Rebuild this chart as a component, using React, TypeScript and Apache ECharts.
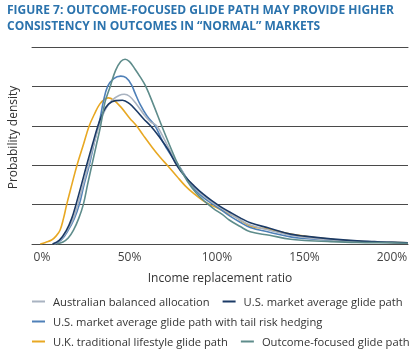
import React, { useEffect, useRef } from "react";
import * as echarts from "echarts";

const TITLE_LINES = [
  "FIGURE 7: OUTCOME-FOCUSED GLIDE PATH MAY PROVIDE HIGHER",
  "CONSISTENCY IN OUTCOMES IN \u201CNORMAL\u201D MARKETS",
];
const X_TICKS = [0, 50, 100, 150, 200];
const SERIES_NAMES = [
  "Australian balanced allocation",
  "U.S. market average glide path",
  "U.S. market average glide path with tail risk hedging",
  "U.K. traditional lifestyle glide path",
  "Outcome-focused glide path",
];

// [income replacement ratio %, probability density]
const australian: number[][] = [
  [7, 0], [10.5, 0.1], [14.5, 0.35], [18, 0.65], [20.4, 1.0], [23.5, 1.5], [26.5, 2.0], [30, 2.6], [33, 3.05],
  [36, 3.4], [40, 3.65], [44, 3.77], [47, 3.8], [50, 3.75], [54, 3.55], [58, 3.3], [62, 3.1], [65.5, 3.0],
  [70, 2.65], [74, 2.3], [78, 2.0], [83, 1.65], [88, 1.4], [93, 1.2], [98, 1.03], [103, 0.9], [107, 0.78],
  [113, 0.62], [119, 0.48], [130, 0.35], [142, 0.22], [150, 0.17], [165, 0.1], [180, 0.06], [200, 0.04], [209, 0.03],
];
const usMarket: number[][] = [
  [6, 0], [10, 0.1], [14, 0.35], [17, 0.65], [19.4, 1.0], [22.5, 1.5], [25.5, 2.0], [29, 2.55], [32, 3.0],
  [35, 3.35], [38, 3.55], [42, 3.64], [46, 3.65], [50, 3.56], [54, 3.38], [58, 3.18], [62, 3.0], [67, 2.72],
  [72, 2.4], [77, 2.0], [82, 1.7], [87, 1.47], [92, 1.27], [97, 1.1], [102, 0.95], [107, 0.82], [113, 0.67],
  [119, 0.54], [130, 0.4], [142, 0.25], [150, 0.2], [165, 0.13], [180, 0.08], [190, 0.06], [200, 0.04], [209, 0.03],
];
const usTailRisk: number[][] = [
  [7.5, 0], [11, 0.1], [15, 0.35], [18.5, 0.65], [21.3, 1.0], [24, 1.5], [27, 2.0], [30, 2.6], [33, 3.15],
  [35, 3.6], [37.5, 4.0], [41, 4.2], [45, 4.26], [48, 4.22], [51, 4.05], [53, 3.85], [56, 3.55], [60, 3.25],
  [64.6, 3.0], [69, 2.6], [73, 2.3], [78, 2.0], [83, 1.65], [88, 1.35], [93, 1.15], [98, 1.0], [103, 0.85],
  [107, 0.72], [113, 0.56], [119, 0.42], [130, 0.3], [142, 0.18], [150, 0.14], [165, 0.09], [180, 0.06], [200, 0.04], [209, 0.03],
];
const ukLifestyle: number[][] = [
  [-1, 0], [2, 0.04], [5.5, 0.1], [8, 0.2], [10.3, 0.35], [12.3, 0.65], [14.1, 1.0], [17, 1.5], [20, 2.0],
  [23.5, 2.5], [27, 3.0], [30, 3.3], [33, 3.55], [36, 3.68], [38, 3.71], [41, 3.65], [45, 3.48], [50, 3.2],
  [54, 3.0], [58, 2.75], [63, 2.45], [67.5, 2.2], [71.6, 2.0], [77, 1.72], [82, 1.47], [87, 1.27], [92, 1.1],
  [96, 1.0], [100, 0.92], [105, 0.8], [110, 0.7], [119, 0.46], [130, 0.37], [142, 0.25], [150, 0.2],
  [165, 0.12], [180, 0.07], [190, 0.05], [200, 0.04], [209, 0.03],
];
const outcomeFocused: number[][] = [
  [8.5, 0], [12, 0.05], [15, 0.15], [18, 0.35], [21, 0.65], [23.6, 1.0], [26, 1.5], [28.5, 2.0], [31, 2.5],
  [33.5, 3.0], [36, 3.6], [39, 4.0], [42, 4.4], [45, 4.63], [47.5, 4.69], [50, 4.63], [53, 4.45], [56, 4.25],
  [59.3, 4.0], [64, 3.5], [68.4, 3.0], [73, 2.5], [77.9, 2.0], [83, 1.6], [88, 1.3], [93, 1.08], [98, 0.9],
  [103, 0.75], [107, 0.61], [113, 0.45], [119, 0.31], [130, 0.22], [142, 0.12], [150, 0.09], [165, 0.06],
  [180, 0.04], [200, 0.03], [209, 0.02],
];

const SERIES_DATA = [australian, usMarket, usTailRisk, ukLifestyle, outcomeFocused];
const COLORS = ["#a9b3c1", "#1b3a66", "#4f80b8", "#e8a823", "#5e8c8b"];
const Z_ORDER = [3, 4, 2, 1, 5];

const FONT = "Open Sans";

export default function App() {
  const ref = useRef<HTMLDivElement>(null);
  useEffect(() => {
    if (!ref.current) return;
    const chart = echarts.init(ref.current, undefined, { renderer: "svg" });
    const legendText = { fontFamily: FONT, fontSize: 11.2, color: "#333", padding: [0, 0, 0, 3] };
    const legendBase = {
      icon: "rect",
      itemWidth: 13,
      itemHeight: 2,
      itemGap: 13,
      padding: 0,
      width: 380,
      textStyle: legendText,
      selectedMode: false,
    };
    const titleStyle = { fontFamily: FONT, fontSize: 12, fontWeight: "bold", color: "#2b73ad", lineHeight: 16 };
    chart.setOption({
      animation: false,
      title: [
        { text: TITLE_LINES[0], left: 7, top: 1, padding: 0, textStyle: titleStyle },
        { text: TITLE_LINES[1], left: 7, top: 17, padding: 0, textStyle: titleStyle },
      ],
      grid: { left: 32, right: 6, top: 47, bottom: 112 },
      legend: [
        { ...legendBase, left: 32, top: 296, data: [SERIES_NAMES[0], SERIES_NAMES[1]] },
        { ...legendBase, left: 32, top: 316, data: [SERIES_NAMES[2]] },
        { ...legendBase, left: 32, top: 336, data: [SERIES_NAMES[3], SERIES_NAMES[4]] },
      ],
      xAxis: [
        {
          type: "value",
          min: -5.71,
          max: 209.14,
          name: "Income replacement ratio",
          nameLocation: "middle",
          nameGap: 27,
          nameTextStyle: { fontFamily: FONT, fontSize: 12, color: "#333" },
          axisLine: { show: true, lineStyle: { color: "#4a4a4a", width: 1 } },
          axisTick: { show: false },
          splitLine: { show: false },
          axisLabel: {
            customValues: X_TICKS,
            formatter: (v: number) => `${v}%`,
            fontFamily: FONT,
            fontSize: 12,
            color: "#444",
            margin: 6,
          },
        },
        {
          type: "value",
          position: "top",
          min: -5.71,
          max: 209.14,
          axisLine: { show: true, lineStyle: { color: "#4a4a4a", width: 1 } },
          axisTick: { show: false },
          axisLabel: { show: false },
          splitLine: { show: false },
        },
      ],
      yAxis: {
        type: "value",
        min: 0,
        max: 5,
        interval: 1,
        axisLabel: { show: false },
        axisTick: { show: false },
        axisLine: { show: false },
        splitLine: { show: true, lineStyle: { color: "#4a4a4a", width: 1 } },
      },
      graphic: [
        {
          type: "text",
          x: 12,
          y: 137.5,
          rotation: Math.PI / 2,
          style: {
            text: "Probability density",
            fontFamily: FONT,
            fontSize: 12,
            fill: "#333",
            align: "center",
            verticalAlign: "middle",
          },
        },
      ],
      series: SERIES_NAMES.map((name, i) => ({
        name,
        type: "line",
        data: SERIES_DATA[i],
        smooth: 0.4,
        showSymbol: false,
        symbol: "none",
        z: Z_ORDER[i],
        lineStyle: { color: COLORS[i], width: 1.6 },
        itemStyle: { color: COLORS[i] },
      })),
    });
    return () => chart.dispose();
  }, []);
  return <div ref={ref} style={{ position: "fixed", left: 0, top: 0, width: 414, height: 356 }} />;
}
